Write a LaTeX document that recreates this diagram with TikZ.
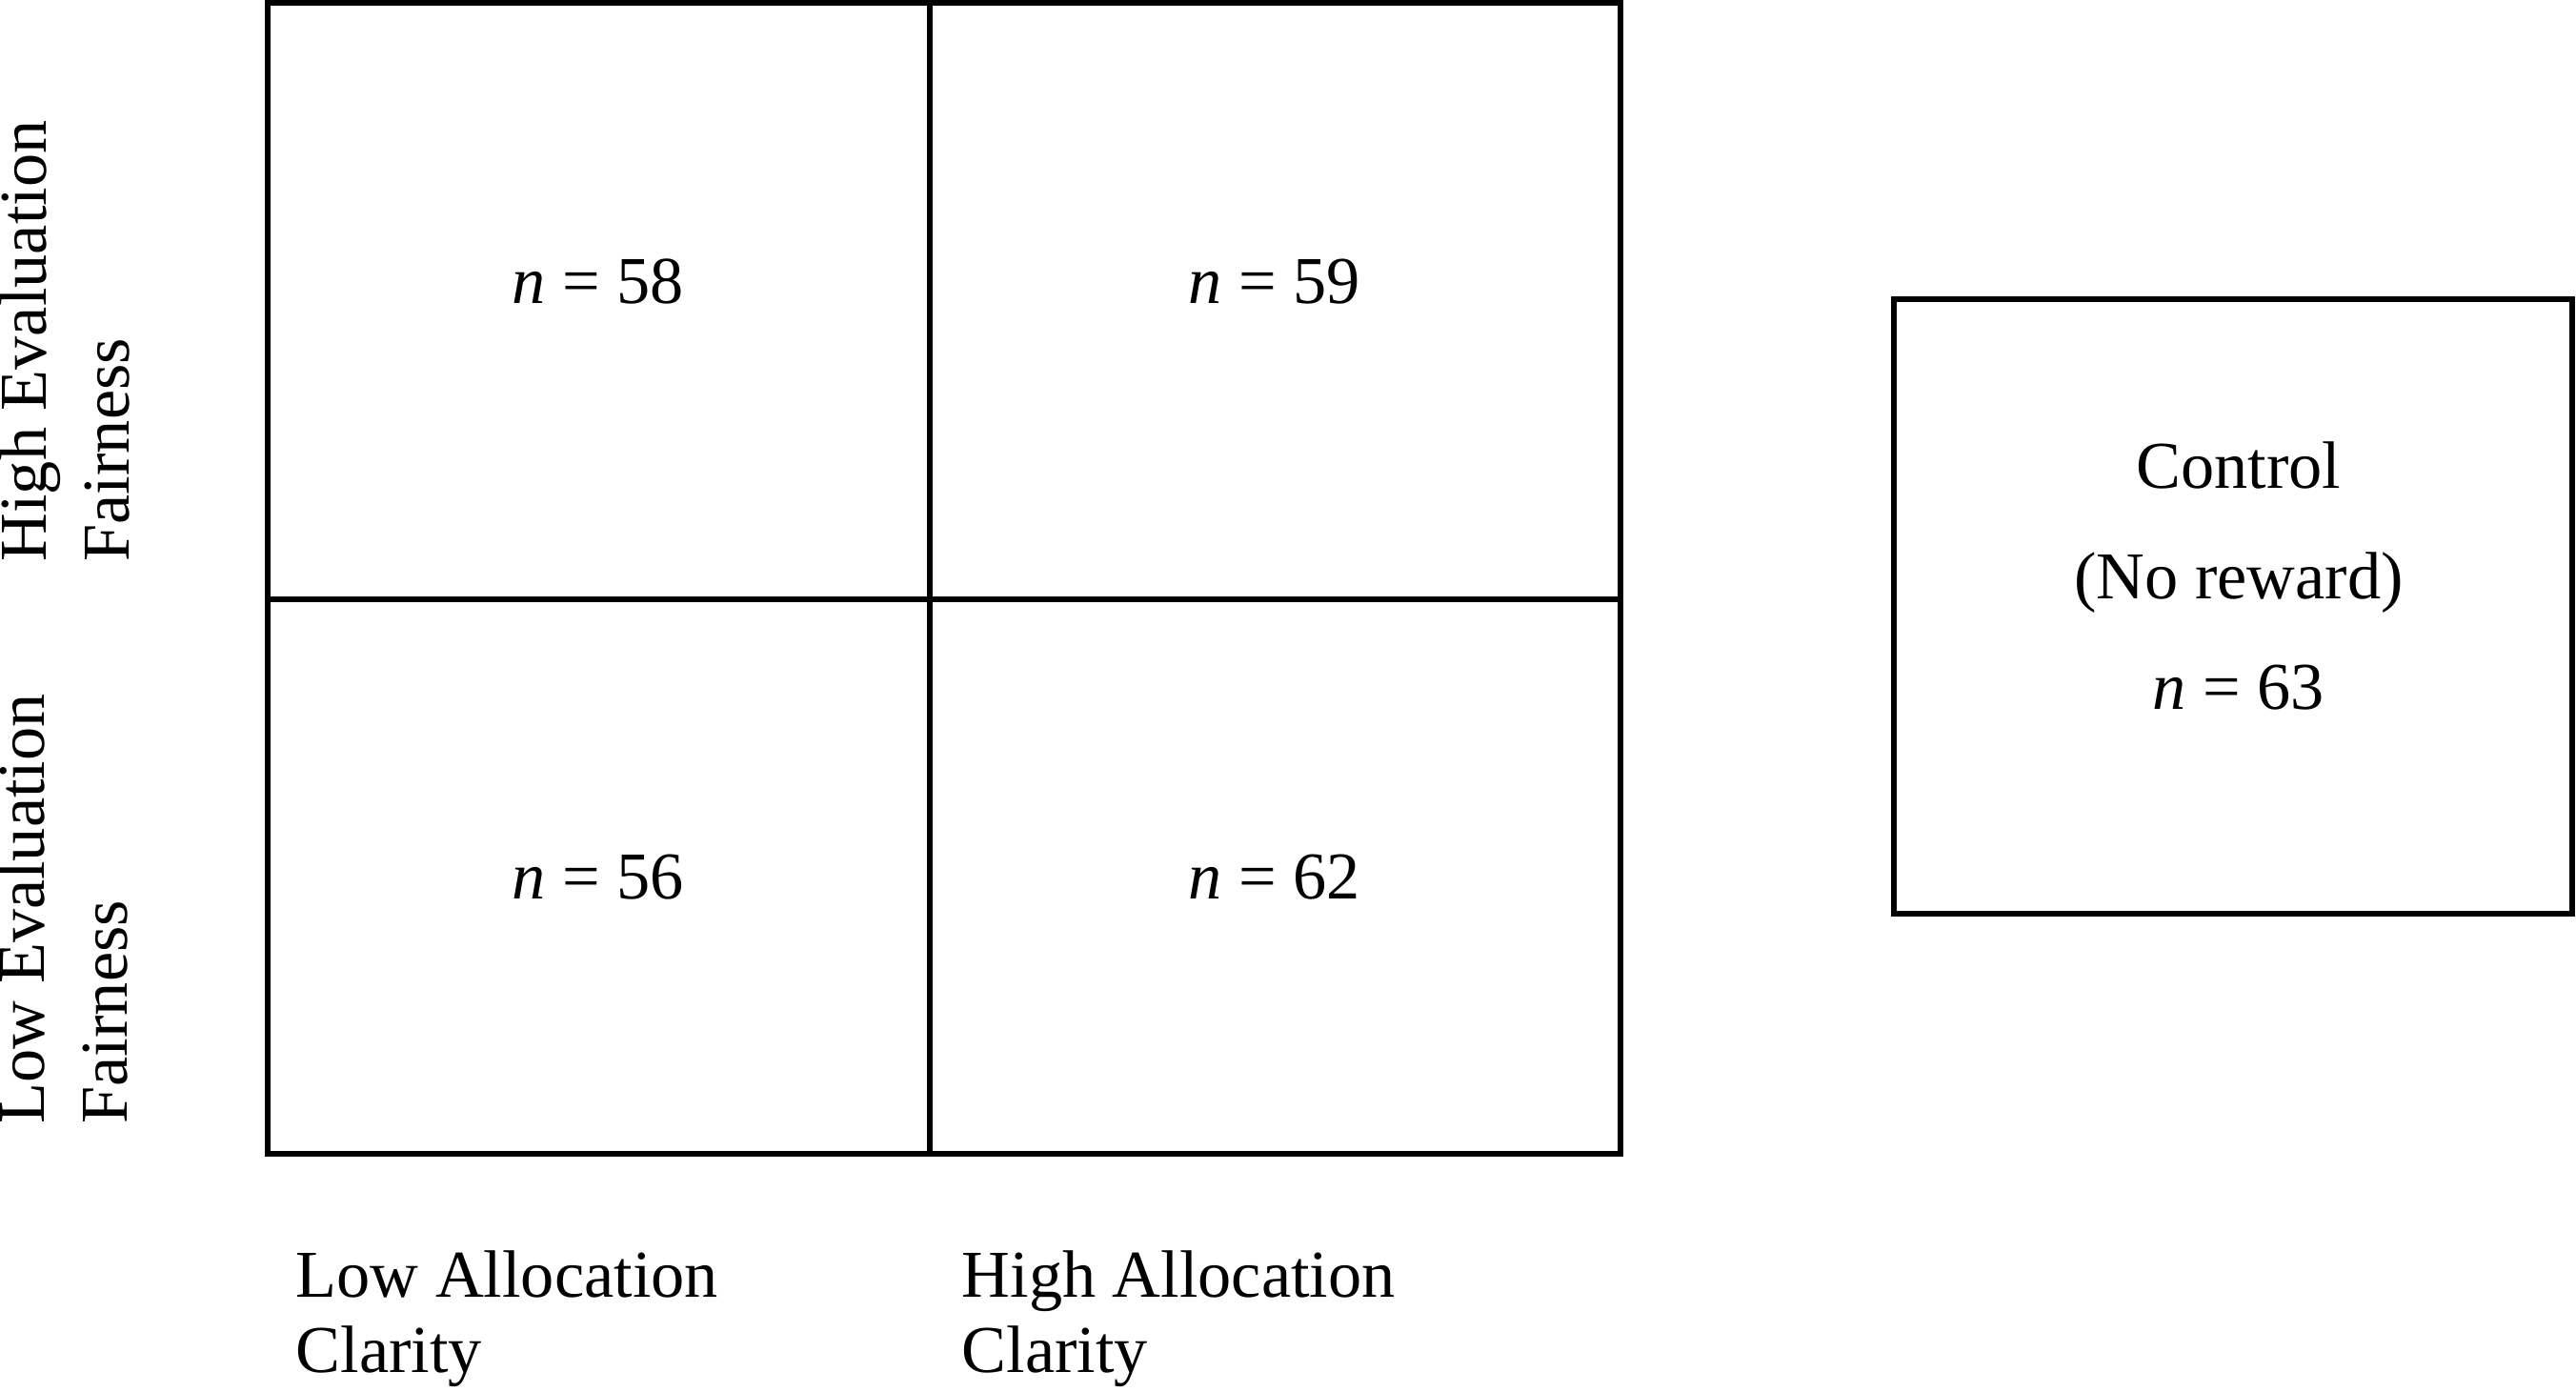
\documentclass[tikz,border=0pt]{standalone}
\usepackage{fontspec}
\setmainfont{Liberation Serif}

\begin{document}
\begin{tikzpicture}
                [x=1cm, y=-1cm,
                 every node/.style={inner sep=0pt, font=\fontsize{20}{22.2}\selectfont},
                 box/.style={draw, line width=0.06cm},
                 sidelabel/.style={rotate=90, anchor=base west, align=left, font=\fontsize{20}{24.5}\selectfont},
                 bottomlabel/.style={anchor=base west, align=left}]
                \useasboundingbox (0,0) rectangle (27.04,14.60);
                % 2x2 grid
                \draw[box] (2.81,0.03) rectangle (17.01,12.11);
                \draw[box] (9.76,0.03) -- (9.76,12.11);
                \draw[box] (2.81,6.29) -- (17.01,6.29);
                % control group
                \draw[box] (19.88,3.14) rectangle (27.00,9.59);
                \node (hl) [anchor=base] at (6.28,3.18) {\textit{n} = 58};
                \node (hh) [anchor=base] at (13.38,3.18) {\textit{n} = 59};
                \node (ll) [anchor=base] at (6.28,9.43) {\textit{n} = 56};
                \node (lh) [anchor=base] at (13.38,9.43) {\textit{n} = 62};
                \node (ctrl) [anchor=base, align=center, font=\fontsize{20}{33}\selectfont] at (23.50,7.44)
                        {Control\\(No reward)\\\textit{n} = 63};
                \node (hef) [sidelabel] at (1.35,5.90) {High Evaluation\\Fairness};
                \node (lef) [sidelabel] at (1.33,11.80) {Low Evaluation\\Fairness};
                \node (lac) [bottomlabel] at (3.10,14.40) {Low Allocation\\Clarity};
                \node (hac) [bottomlabel] at (10.09,14.40) {High Allocation\\Clarity};
            \end{tikzpicture}
\end{document}
